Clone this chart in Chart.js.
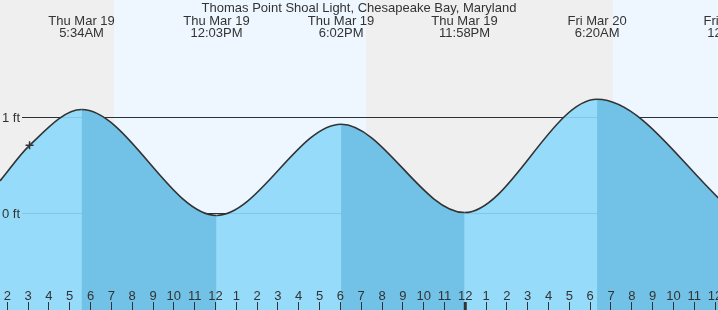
<!DOCTYPE html>
<html>
<head>
<meta charset="utf-8">
<script src="https://cdn.jsdelivr.net/npm/chart.js@4"></script>
<style>
  html, body { margin: 0; padding: 0; background: #ffffff; overflow: hidden; }
  canvas { display: block; }
</style>
</head>
<body>
<canvas id="tideChart" width="718" height="310"></canvas>
<script>
// ======== Data (hours counted from Thu Mar 19, 00:00) ========
const chartTitle = 'Thomas Point Shoal Light, Chesapeake Bay, Maryland';

const tideTimes   = [1.65, 3.07, 5.567, 12.05, 18.033, 23.967, 30.333, 36.87];
const tideHeights = [0.34, 0.71, 1.083, -0.02, 0.93, 0.01, 1.19, 0.02];

const extremeTimes = [5.567, 12.05, 18.033, 23.967, 30.333, 36.87];
const extremeDays  = ['Thu Mar 19', 'Thu Mar 19', 'Thu Mar 19', 'Thu Mar 19', 'Fri Mar 20', 'Fri Mar 20'];
const extremeClock = ['5:34AM', '12:03PM', '6:02PM', '11:58PM', '6:20AM', '12:52PM'];

const nowTime = 3.07;
const nowHeight = 0.71;

const daylightStart = [7.125, 31.09];
const daylightEnd   = [19.23, 43.25];

const levelValues = [1, 0];
const levelLabels = ['1 ft', '0 ft'];

const hourTicks = [];
for (let h = 2; h <= 36; h++) hourTicks.push(h);
const hourLabels = hourTicks.map(h => String(((h + 11) % 12) + 1));

const xMin = 1.65, xMax = 36.14;
const yMin = -1.005, yMax = 2.224;

// ======== Colours ========
const nightColor = '#efefef';
const dayColor = '#eef7ff';
const risingFill = '#96dcfa';
const fallingFill = '#72c1e6';
const inkColor = '#333333';
const levelTint = 'rgba(0, 40, 80, 0.12)';
const font = '13px "Liberation Sans", Arial, sans-serif';

const tidePoints = tideTimes.map((t, i) => ({ x: t, y: tideHeights[i] }));

function drawLevels(chart, color) {
    const { ctx, chartArea: area, scales: { y } } = chart;
    ctx.strokeStyle = color;
    ctx.lineWidth = 1;
    levelValues.forEach(v => {
        const py = y.getPixelForValue(v);
        ctx.beginPath();
        ctx.moveTo(22, py);
        ctx.lineTo(area.right, py);
        ctx.stroke();
    });
}

// ======== Drawing plugin ========
const tideArt = {
    id: 'tideArt',
    beforeDatasetsDraw(chart) {
        const { ctx, chartArea: area, scales: { x } } = chart;
        ctx.save();
        ctx.fillStyle = nightColor;
        ctx.fillRect(area.left, area.top, area.width, area.height);
        ctx.fillStyle = dayColor;
        daylightStart.forEach((s, i) => {
            const x0 = x.getPixelForValue(s);
            const x1 = x.getPixelForValue(daylightEnd[i]);
            ctx.fillRect(x0, area.top, x1 - x0, area.height);
        });
        drawLevels(chart, inkColor);
        ctx.restore();
    },
    afterDatasetDraw(chart, args) {
        // faint level lines showing through the water, under the curve stroke
        if (args.index !== 2) return;
        chart.ctx.save();
        drawLevels(chart, levelTint);
        chart.ctx.restore();
    },
    afterDatasetsDraw(chart) {
        const { ctx, scales: { x, y } } = chart;
        ctx.save();
        ctx.fillStyle = inkColor;
        ctx.font = font;
        ctx.textBaseline = 'alphabetic';

        ctx.textAlign = 'center';
        ctx.fillText(chartTitle, 359, 12);
        extremeTimes.forEach((t, i) => {
            const px = x.getPixelForValue(t);
            ctx.fillText(extremeDays[i], px, 24.5);
            ctx.fillText(extremeClock[i], px, 36.5);
        });

        ctx.textAlign = 'left';
        levelValues.forEach((v, i) => {
            ctx.fillText(levelLabels[i], 2, y.getPixelForValue(v) + 4.5);
        });

        // hour ticks along the bottom
        ctx.textAlign = 'center';
        ctx.strokeStyle = inkColor;
        hourTicks.forEach((h, i) => {
            const px = x.getPixelForValue(h);
            ctx.fillText(hourLabels[i], px, 299.5);
            const midnight = h % 24 === 0;
            ctx.lineWidth = midnight ? 3 : 1;
            const sx = midnight ? px : Math.round(px - 0.5) + 0.5;
            ctx.beginPath();
            ctx.moveTo(sx, 302);
            ctx.lineTo(sx, 310);
            ctx.stroke();
        });
        ctx.restore();
    }
};

// ======== Chart ========
new Chart(document.getElementById('tideChart'), {
    type: 'line',
    data: {
        datasets: [
            {
                // curve + falling-tide shading
                data: tidePoints,
                order: 1,
                borderColor: inkColor,
                borderWidth: 1.6,
                pointRadius: 0,
                fill: 'start',
                backgroundColor: 'transparent',
                cubicInterpolationMode: 'monotone',
                segment: {
                    backgroundColor: c => c.p1.parsed.y < c.p0.parsed.y ? fallingFill : 'transparent',
                },
            },
            {
                data: [{ x: nowTime, y: nowHeight }],
                order: 0,
                showLine: false,
                pointStyle: 'cross',
                pointRadius: 4,
                borderColor: inkColor,
                borderWidth: 1.5,
            },
            {
                // water body
                data: tidePoints,
                order: 2,
                borderWidth: 0,
                pointRadius: 0,
                fill: 'start',
                backgroundColor: risingFill,
                cubicInterpolationMode: 'monotone',
            },
        ],
    },
    options: {
        responsive: false,
        animation: false,
        events: [],
        layout: { padding: 0, autoPadding: false },
        plugins: {
            legend: { display: false },
            tooltip: { enabled: false },
        },
        scales: {
            x: { type: 'linear', display: false, min: xMin, max: xMax },
            y: { display: false, min: yMin, max: yMax },
        },
    },
    plugins: [tideArt],
});
</script>
</body>
</html>
